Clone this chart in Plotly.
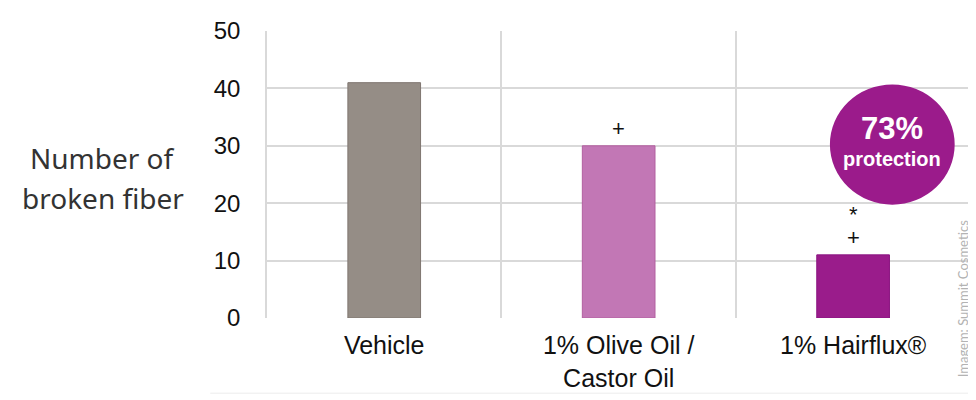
import plotly.graph_objects as go

# Data
categories = ["Vehicle", "1% Olive Oil /<br>Castor Oil", "1% Hairflux®"]
broken_fiber = [41, 30, 11]
bar_colors = ["#958d86", "#c277b5", "#9a1c8b"]
bar_lines = ["#7f7670", "#b2609f", "#8a1480"]
marks = ["", "+", "+"]
stars = ["", "", "*"]
y_ticks = [0, 10, 20, 30, 40, 50]

fig = go.Figure()
fig.add_trace(
    go.Bar(
        x=categories,
        y=broken_fiber,
        width=0.31,
        marker=dict(color=bar_colors, line=dict(color=bar_lines, width=1)),
        showlegend=False,
    )
)

# significance marks above bars
for cat, val, mark, star in zip(categories, broken_fiber, marks, stars):
    if mark:
        fig.add_annotation(
            x=cat, y=val, text=mark, showarrow=False,
            yanchor="bottom", yshift=3,
            font=dict(family="Liberation Sans, Arial", size=22, color="#111"),
        )
    if star:
        fig.add_annotation(
            x=cat, y=val, text=star, showarrow=False,
            yanchor="bottom", yshift=26,
            font=dict(family="Liberation Sans, Arial", size=22, color="#111"),
        )

# protection badge
fig.add_shape(
    type="circle", xref="paper", yref="paper",
    x0=0.803, x1=0.981, y0=0.395, y1=0.814,
    fillcolor="#9b1b8b", line=dict(width=0),
)
fig.add_annotation(
    xref="paper", yref="paper", x=0.892, y=0.662, text="<b>73%</b>",
    showarrow=False, xanchor="center",
    font=dict(family="Liberation Sans, Arial", size=31, color="white"),
)
fig.add_annotation(
    xref="paper", yref="paper", x=0.892, y=0.553, text="<b>protection</b>",
    showarrow=False, xanchor="center",
    font=dict(family="Liberation Sans, Arial", size=20, color="white"),
)

# y axis title, two lines
fig.add_annotation(
    xref="paper", yref="paper", x=-0.234, y=0.557, text="Number of",
    showarrow=False, xanchor="center",
    font=dict(family="Noto Sans", size=28, color="#333"),
)
fig.add_annotation(
    xref="paper", yref="paper", x=-0.234, y=0.419, text="broken fiber",
    showarrow=False, xanchor="center",
    font=dict(family="Noto Sans", size=28, color="#333"),
)

# watermark + bottom rule
fig.add_annotation(
    xref="paper", yref="paper", x=0.993, y=-0.215, text="Imagem: Summit Cosmetics",
    textangle=-90, showarrow=False, xanchor="center", yanchor="bottom",
    font=dict(family="Lato", size=13, color="#b3b3b3"),
)
fig.add_shape(
    type="line", xref="paper", yref="paper",
    x0=-0.081, x1=1.0, y0=-0.262, y1=-0.262,
    line=dict(color="#ececec", width=1),
)

# page has an 8px body margin, so the figure is drawn 8px smaller
fig.update_layout(
    width=968,
    height=392,
    margin=dict(l=259, r=8, t=23, b=78),
    paper_bgcolor="white",
    plot_bgcolor="white",
    xaxis=dict(
        type="category",
        tickson="boundaries",
        range=[-0.5, 2.49],
        showgrid=True,
        gridcolor="#d9d9d9",
        gridwidth=1.5,
        ticks="",
        ticklabelstandoff=10,
        tickfont=dict(family="Liberation Sans, Arial", size=25, color="#111"),
        showline=False,
        zeroline=False,
    ),
    yaxis=dict(
        range=[0, 50],
        tickvals=y_ticks,
        showgrid=True,
        gridcolor="#d9d9d9",
        gridwidth=1.5,
        zeroline=False,
        showline=True,
        linecolor="#d9d9d9",
        linewidth=1.5,
        ticks="",
        ticklabelstandoff=20,
        tickfont=dict(family="Liberation Sans, Arial", size=24, color="#111"),
    ),
)

fig.write_html("out.html")
